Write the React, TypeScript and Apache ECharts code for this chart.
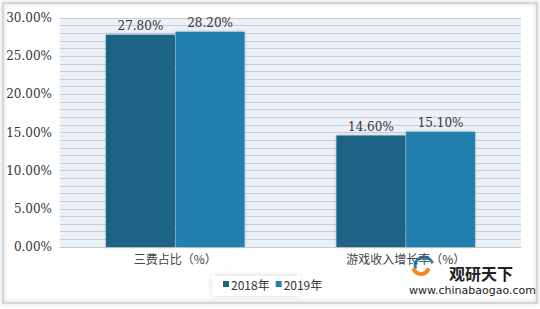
import React, { useEffect, useRef } from "react";
import * as echarts from "echarts";

const categories = ["三费占比（%）", "游戏收入增长率（%）"];
const series2018 = [27.8, 14.6];
const series2019 = [28.2, 15.1];
const seriesNames = ["2018年", "2019年"];

export default function App() {
  const ref = useRef<HTMLDivElement>(null);
  useEffect(() => {
    const chart = echarts.init(ref.current!, undefined, { renderer: "svg" });
    const labelStyle = {
      show: true,
      position: "top" as const,
      formatter: (p: any) => p.value.toFixed(2) + "%",
      fontFamily: "DejaVu Serif",
      fontSize: 12,
      color: "#333",
      distance: 3,
    };
    chart.setOption({
      animation: false,
      backgroundColor: "#fff",
      graphic: [
        {
          type: "rect",
          shape: { x: 3, y: 3, width: 534, height: 300 },
          style: { fill: "none", stroke: "#d6d6d6", lineWidth: 2, shadowBlur: 4, shadowColor: "rgba(0,0,0,0.2)" },
          z: -1,
        },
        {
          type: "rect",
          shape: { x: 212, y: 276, width: 88, height: 20 },
          style: { fill: "#fff", shadowBlur: 6, shadowColor: "rgba(0,0,0,0.15)" },
          z: -1,
        },
        {
          type: "arc",
          shape: { cx: 424, cy: 266, r: 9, startAngle: Math.PI * 0.9, endAngle: Math.PI * 1.9 },
          style: { fill: "none", stroke: "#1f7fc0", lineWidth: 3 },
        },
        {
          type: "arc",
          shape: { cx: 421, cy: 266, r: 8, startAngle: Math.PI * 0.1, endAngle: Math.PI * 0.9 },
          style: { fill: "none", stroke: "#f08a1c", lineWidth: 4 },
        },
        {
          type: "text",
          x: 449,
          y: 264,
          style: { text: "观研天下", font: "bold 16px 'Noto Sans CJK SC'", lineHeight: 17, fill: "#222" },
        },
        {
          type: "text",
          x: 409,
          y: 284,
          style: { text: "www.chinabaogao.com", font: "11px 'DejaVu Sans'", lineHeight: 12, fill: "#222" },
        },
      ],
      legend: {
        top: 273,
        left: 218,
        data: seriesNames,
        itemWidth: 6,
        itemHeight: 6,
        itemGap: 6,
        icon: "rect",
        textStyle: { fontFamily: "'Noto Sans CJK SC'", fontSize: 12, color: "#333", padding: [0, 0, 0, -3] },
      },
      grid: {
        left: 60,
        right: 19,
        top: 18,
        bottom: 62,
        show: true,
        backgroundColor: "#EBF1F7",
        borderWidth: 0,
      },
      xAxis: {
        type: "category",
        data: categories,
        axisLine: { show: true, lineStyle: { color: "#c9ccd0" } },
        axisTick: { show: false },
        axisLabel: { fontFamily: "'Noto Sans CJK SC'", fontSize: 12, color: "#444", margin: 5, lineHeight: 13 },
      },
      yAxis: {
        type: "value",
        min: 0,
        max: 30,
        interval: 5,
        axisLine: { show: false },
        axisTick: { show: false },
        axisLabel: {
          formatter: (v: number) => v.toFixed(2) + "%",
          fontFamily: "DejaVu Serif",
          fontSize: 12,
          color: "#333",
          margin: 8,
        },
        splitLine: { lineStyle: { color: "#c8ced6", width: 1 } },
        minorTick: { show: false, splitNumber: 5 },
        minorSplitLine: { show: true, lineStyle: { color: "#c8ced6", width: 1 } },
      },
      series: [
        {
          name: seriesNames[0],
          type: "bar",
          data: series2018,
          barWidth: 69,
          barGap: "1%",
          itemStyle: { color: "#1B6385", shadowBlur: 3, shadowColor: "rgba(0,0,0,0.25)" },
          label: labelStyle,
        },
        {
          name: seriesNames[1],
          type: "bar",
          data: series2019,
          barWidth: 69,
          itemStyle: { color: "#2080AF", shadowBlur: 3, shadowColor: "rgba(0,0,0,0.25)" },
          label: labelStyle,
        },
      ],
    });
    return () => chart.dispose();
  }, []);
  return <div ref={ref} style={{ position: "fixed", left: 0, top: 0, width: 540, height: 309 }} />;
}
